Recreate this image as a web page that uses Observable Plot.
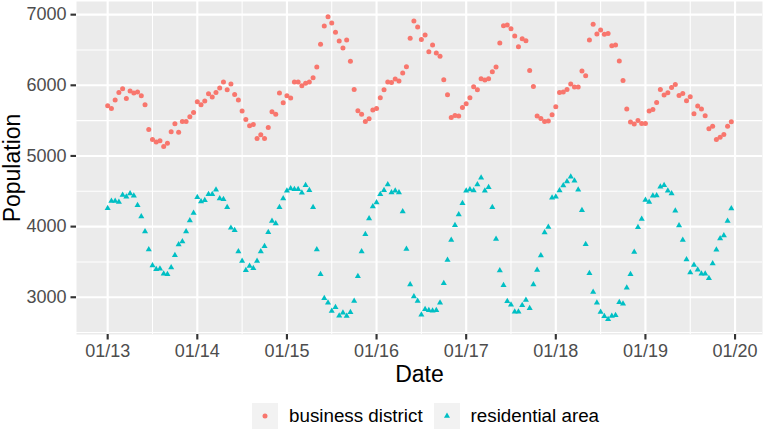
<!DOCTYPE html>
<html>
<head>
<meta charset="utf-8">
<script src="https://cdn.jsdelivr.net/npm/d3@7"></script>
<script src="https://cdn.jsdelivr.net/npm/@observablehq/plot@0.6"></script>
<style>
  html, body { margin: 0; padding: 0; background: #fff; }
  body { width: 763px; height: 431px; overflow: hidden; font-family: "Liberation Sans", Arial, sans-serif; }
  #legend { display: flex; align-items: center; padding-top: 15px; margin-left: 252px; font-size: 18.8px; color: #000; }
  .key { width: 26px; height: 26px; background: #F2F2F2; display: flex; align-items: center; justify-content: center; }
  .lab { margin-left: 11px; margin-right: 11px; white-space: nowrap; }
</style>
</head>
<body>
<div id="chart"></div>
<div id="legend"></div>
<script>
// ---- data (hourly readings, 01/13 00:00 to 01/19 23:00) ----
const startDate = "2021-01-13T00:00:00Z";
const seriesNames = ["business district", "residential area"];
const seriesColors = ["#F8766D", "#00BFC4"];
const businessDistrict = [
  5710,5673,5791,5899,5951,5814,5918,5890,5904,5852,5725,5375,5233,5196,5214,5134,5181,5342,5455,5337,5488,5488,5554,5616,
  5767,5725,5777,5880,5833,5899,5961,6046,5937,6017,5871,5791,5635,5517,5427,5446,5247,5300,5247,5403,5625,5592,5890,5753,
  5852,5819,6046,6046,5994,6030,6048,6107,6258,6580,6839,6972,6882,6750,6627,6528,6641,6339,5942,5640,5592,5488,5526,5649,
  5673,5824,5937,6046,6041,6088,6060,6173,6263,6665,6910,6825,6650,6712,6476,6570,6457,6410,6079,5866,5545,5573,5564,5687,
  5739,5824,5980,5937,6093,6074,6093,6192,6258,6598,6844,6854,6802,6698,6547,6658,6630,6211,5984,5566,5530,5488,5493,5583,
  5696,5899,5904,5942,6017,5975,5975,6202,6136,6641,6863,6726,6783,6721,6735,6561,6570,6343,6069,5663,5479,5451,5503,5460,
  5460,5635,5658,5758,5942,5862,5895,5970,6013,5857,5885,5781,5838,5597,5706,5663,5569,5385,5422,5233,5266,5304,5422,5484
];
const residentialArea = [
  4260,4364,4364,4350,4449,4421,4468,4435,4303,4142,3930,3675,3448,3396,3405,3334,3325,3420,3594,3745,3788,3930,4085,4194,
  4416,4355,4374,4459,4459,4520,4397,4388,4274,3982,3948,3646,3514,3382,3443,3410,3514,3646,3722,3920,4081,4043,4274,4397,
  4506,4539,4528,4528,4478,4584,4515,4274,3675,3325,2985,2923,2805,2857,2739,2782,2734,2787,2947,3297,3646,3892,4114,4284,
  4341,4459,4515,4596,4482,4506,4482,4213,3684,3179,3009,2947,2753,2829,2815,2810,2815,2923,3197,3528,3812,4019,4171,4331,
  4506,4525,4511,4596,4690,4506,4558,4274,3826,3377,3169,2943,2895,2796,2796,2886,2961,2846,3180,3384,3592,3915,3995,4407,
  4421,4511,4582,4638,4704,4648,4520,4232,3750,3339,3075,2923,2791,2730,2687,2734,2744,2928,2909,3136,3325,3641,3991,4109,
  4378,4350,4435,4440,4563,4586,4506,4468,4223,4015,3812,3533,3349,3457,3391,3334,3334,3268,3476,3674,3830,3873,4081,4256
];
const xTickLabels = ["01/13","01/14","01/15","01/16","01/17","01/18","01/19","01/20"];
const yTicks = [3000, 4000, 5000, 6000, 7000];
const yMinorTicks = [2500, 3500, 4500, 5500, 6500];

// ---- build table ----
const t0 = new Date(startDate);
const HOUR = 3600e3, DAY = 24 * HOUR;
const rows = [];
[businessDistrict, residentialArea].forEach((vals, s) => {
  vals.forEach((v, i) => rows.push({date: new Date(+t0 + i * HOUR), value: v, series: seriesNames[s]}));
});
const xTicks = xTickLabels.map((_, i) => new Date(+t0 + i * DAY));
const xMinorTicks = xTicks.slice(0, -1).map(d => new Date(+d + DAY / 2));

const xExt = d3.extent(rows, d => d.date);
const xPad = (xExt[1] - xExt[0]) * 0.05;
const yExt = d3.extent(rows, d => d.value);
const yPad = (yExt[1] - yExt[0]) * 0.05;

const fmt = d3.utcFormat("%m/%d");
const tickStyle = {fontSize: 18, fill: "#4D4D4D", stroke: "#333333", strokeWidth: 2.13, tickSize: 5.5, tickPadding: 4.4, label: null};
const symR = [2.5, 2.25];

const chart = Plot.plot({
  width: 763,
  height: 388,
  marginLeft: 76,
  marginRight: 1,
  marginTop: 1,
  marginBottom: 54,
  style: {fontFamily: "'Liberation Sans', Arial, sans-serif", background: "#fff", overflow: "visible"},
  x: {type: "utc", domain: [new Date(+xExt[0] - xPad), new Date(+xExt[1] + xPad)], axis: null},
  y: {domain: [yExt[0] - yPad, yExt[1] + yPad], axis: null},
  symbol: {domain: seriesNames, range: ["circle", "triangle"]},
  color: {domain: seriesNames, range: seriesColors},
  marks: [
    Plot.frame({fill: "#EBEBEB", stroke: null}),
    Plot.gridY(yMinorTicks, {stroke: "#fff", strokeOpacity: 1, strokeWidth: 1.07}),
    Plot.gridX(xMinorTicks, {stroke: "#fff", strokeOpacity: 1, strokeWidth: 1.07}),
    Plot.gridY(yTicks, {stroke: "#fff", strokeOpacity: 1, strokeWidth: 2.13}),
    Plot.gridX(xTicks, {stroke: "#fff", strokeOpacity: 1, strokeWidth: 2.13}),
    ...seriesNames.map((name, s) =>
      Plot.dot(rows, {filter: d => d.series === name, x: "date", y: "value", fill: "series", symbol: "series", r: symR[s], stroke: null})
    ),
    Plot.axisY(yTicks, {...tickStyle, tickFormat: d3.format("d")}),
    Plot.axisX(xTicks, {...tickStyle, tickFormat: fmt}),
    Plot.text(["Date"], {frameAnchor: "bottom", dy: 40, textAnchor: "middle", lineAnchor: "middle", fontSize: 23, fill: "#000"}),
    Plot.text(["Population"], {frameAnchor: "left", dx: -64, rotate: -90, textAnchor: "middle", lineAnchor: "middle", fontSize: 23, fill: "#000"})
  ]
});
document.getElementById("chart").appendChild(chart);

// ---- legend ----
const legend = document.getElementById("legend");
seriesNames.forEach((name, i) => {
  const key = document.createElement("div");
  key.className = "key";
  const sym = i === 0
    ? `<circle cx="6" cy="6" r="${symR[0]}" fill="${seriesColors[i]}"/>`
    : `<path transform="translate(6,6)" d="${d3.symbol(d3.symbolTriangle, Math.PI * symR[1] * symR[1])()}" fill="${seriesColors[i]}"/>`;
  key.innerHTML = `<svg width="12" height="12">${sym}</svg>`;
  const lab = document.createElement("span");
  lab.className = "lab";
  lab.textContent = name;
  legend.appendChild(key);
  legend.appendChild(lab);
});
</script>
</body>
</html>
